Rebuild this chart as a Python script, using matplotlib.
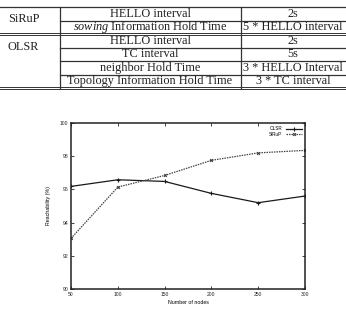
import matplotlib
matplotlib.use("Agg")
import matplotlib.pyplot as plt

# ---- data ----
nodes = [50, 100, 150, 200, 250, 300]
olsr = [96.18, 96.58, 96.48, 95.76, 95.2, 95.6]
sirup = [93.05, 96.14, 96.84, 97.75, 98.2, 98.35]

groups = ["SiRuP", "OLSR"]
params = [r"HELLO interval", r"$\mathit{sowing}$ Information Hold Time",
          r"HELLO interval", r"TC interval", r"neighbor Hold Time",
          r"Topology Information Hold Time"]
values = ["2s", "5 * HELLO interval", "2s", "5s", "3 * HELLO Interval",
          "3 * TC interval"]

plt.rcParams["mathtext.fontset"] = "custom"
plt.rcParams["mathtext.rm"] = "Liberation Serif"
plt.rcParams["mathtext.it"] = "Liberation Serif:italic"

W, H = 346, 311
fig = plt.figure(figsize=(W / 100, H / 100), dpi=100)

# ---- table drawn on a full-figure overlay in pixel coords ----
ov = fig.add_axes([0, 0, 1, 1])
ov.set_xlim(0, W)
ov.set_ylim(H, 0)
ov.axis("off")

tc = "#333333"
tf = dict(family="Liberation Serif", fontsize=8.8, color="#222222")
top, rh = 7, 13.5
col1, col2 = 59.5, 240.5
row_y = [top + rh * i for i in range(7)]

ov.plot([0, W], [row_y[0], row_y[0]], color=tc, lw=0.9)
for i in (1, 3, 4, 5):
    ov.plot([col1, W], [row_y[i], row_y[i]], color=tc, lw=0.9)
for y in (row_y[2] - 0.8, row_y[2] + 0.8, row_y[6] - 0.8, row_y[6] + 0.8):
    ov.plot([0, W], [y, y], color=tc, lw=0.7)
for x in (col1, col2):
    ov.plot([x, x], [row_y[0], row_y[6]], color=tc, lw=0.9)

ov.text(8, 18.5, groups[0], ha="left", va="center", **tf)
ov.text(8, 46.5, groups[1], ha="left", va="center", **tf)
for i, (p, v) in enumerate(zip(params, values)):
    yc = row_y[i] + rh / 2
    ov.text(150, yc, p, ha="center", va="center", **tf)
    ov.text(293, yc, v, ha="center", va="center", clip_on=True, **tf)

# ---- chart ----
ax = fig.add_axes([71 / W, 22 / H, 234 / W, 166 / H])
ax.plot(nodes, olsr, color="#1a1a1a", lw=0.9, marker="+", ms=2.5,
        mew=0.8, label="OLSR")
ax.plot(nodes, sirup, color="#444444", lw=0.9, ls=(0, (1.2, 0.8)),
        marker="x", ms=2, mew=0.8, label="SiRuP")

ax.set_xlim(50, 300)
ax.set_ylim(90, 100)
ax.set_xticks(nodes)
ax.set_yticks([90, 92, 94, 96, 98, 100])
ax.tick_params(direction="in", length=2.5, width=0.6, labelsize=3.6,
               top=True, right=True, pad=2, colors="#222222")
for lab in ax.get_xticklabels() + ax.get_yticklabels():
    lab.set_family("Liberation Sans")
for s in ax.spines.values():
    s.set_linewidth(1.1)
    s.set_color("#222222")
ax.set_xlabel("Number of nodes", fontsize=3.8, family="Liberation Sans",
              labelpad=2)
ax.set_ylabel("Reachability (%)", fontsize=3.8, family="Liberation Sans",
              labelpad=6)
ax.legend(loc="upper right", frameon=False, prop=dict(family="Liberation Sans",
          size=3.3), handlelength=3.5, handletextpad=0.8, markerfirst=False,
          borderaxespad=0.3, labelspacing=0.1)

fig.savefig("out.png", dpi=100)
